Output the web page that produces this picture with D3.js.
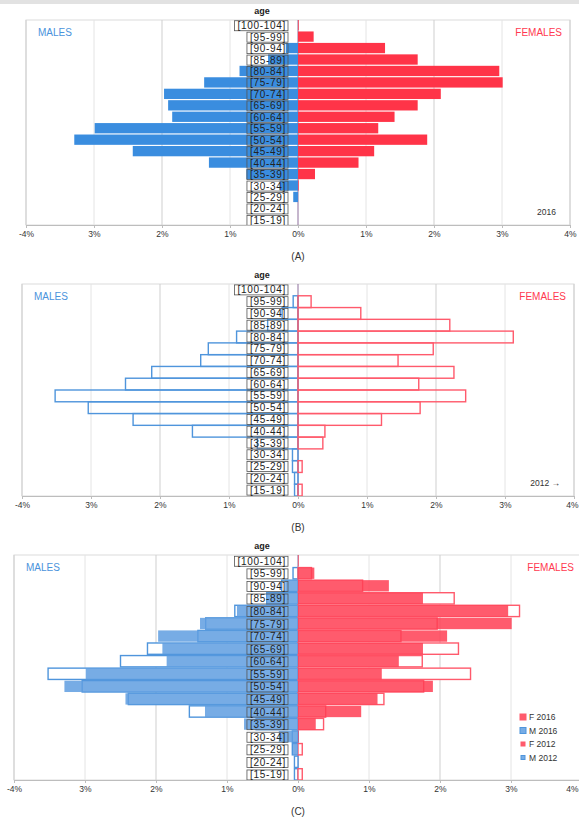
<!DOCTYPE html>
<html>
<head>
<meta charset="utf-8">
<script src="https://cdn.jsdelivr.net/npm/d3@7"></script>
<style>
  body { margin: 0; background: #fff; }
  svg { display: block; }
  text { font-family: "Liberation Sans", Arial, sans-serif; }
</style>
</head>
<body>
<svg></svg>
<script>

// age groups, oldest at the top
var ageGroups = ['[100-104]', '[95-99]', '[90-94]', '[85-89]', '[80-84]', '[75-79]', '[70-74]', '[65-69]', '[60-64]',
                 '[55-59]', '[50-54]', '[45-49]', '[40-44]', '[35-39]', '[30-34]', '[25-29]', '[20-24]', '[15-19]']

// share of total population, in %
var males2016   = [0, 0, 0.18, 0.44, 0.86, 1.38, 1.97, 1.91, 1.85, 2.99, 3.29, 2.43, 1.31, 0.76, 0.27, 0.07, 0, 0]
var females2016 = [0.01, 0.23, 1.28, 1.76, 2.96, 3.01, 2.10, 1.76, 1.42, 1.18, 1.90, 1.12, 0.89, 0.25, 0.01, 0, 0, 0]
var males2012   = [0, 0.07, 0.23, 0.44, 0.89, 1.30, 1.41, 2.12, 2.50, 3.52, 3.04, 2.39, 1.53, 0.59, 0.08, 0.08, 0.05, 0.05]
var females2012 = [0, 0.19, 0.91, 2.20, 3.12, 1.96, 1.45, 2.26, 1.75, 2.43, 1.77, 1.21, 0.39, 0.36, 0, 0.06, 0, 0.06]

var tickValues = [-4, -3, -2, -1, 0, 1, 2, 3, 4]
var tickLabels = ['-4%', '3%', '2%', '1%', '0%', '1%', '2%', '3%', '4%']

var legendLabels = ['F 2016', 'M 2016', 'F 2012', 'M 2012']

var width = 579,
    height = 821

var blue = '#3a8ddf', red = '#ff3448'
var blueLine = '#4f95dc', redLine = '#ff5a6c'
var blueSoft = 'rgba(95,158,224,0.85)', redSoft = 'rgba(255,62,84,0.85)'

var svg = d3.select('svg')
            .attr('width', width)
            .attr('height', height)

// grey strip of the cut off title
svg.append('rect').attr('x', 0).attr('y', 0).attr('width', width).attr('height', 4).attr('fill', '#e2e2e2')

var panels = [
  {name: '(A)', top: 20, bottom: 225, left: 26, right: 570, mode: 'filled', note: '2016'},
  {name: '(B)', top: 284, bottom: 496, left: 22, right: 574, mode: 'outline', note: '2012 \u2192'},
  {name: '(C)', top: 555, bottom: 780, left: 14, right: 582, mode: 'both'}
]

panels.forEach(drawPanel)

function drawPanel(p) {
  var g = svg.append('g')

  var x = d3.scaleLinear()
      .domain([-4, 4])
      .range([p.left, p.right])

  var y = d3.scaleBand()
      .domain(ageGroups)
      .range([p.top, p.bottom])
      .paddingInner(p.mode == 'outline' ? 0 : 0.1)

  // frame and grid
  g.append('rect')
    .attr('x', p.left).attr('y', p.top)
    .attr('width', p.right - p.left).attr('height', p.bottom - p.top)
    .attr('fill', 'none').attr('stroke', '#dcdcdc')

  g.selectAll('.grid')
    .data(tickValues.filter(d => d != 0))
    .enter()
    .append('line')
      .attr('x1', d => x(d)).attr('x2', d => x(d))
      .attr('y1', p.top).attr('y2', p.bottom)
      .attr('stroke', d => Math.abs(d) % 2 == 0 ? '#cfcfcf' : '#e4e4e4')

  g.append('line')
    .attr('x1', x(0)).attr('x2', x(0))
    .attr('y1', p.top).attr('y2', p.bottom)
    .attr('stroke', '#8d6f9c')

  var rows = ageGroups.map((a, i) => ({age: a, m16: males2016[i], f16: females2016[i], m12: males2012[i], f12: females2012[i]}))

  // 2012 as outlined bars
  if (p.mode != 'filled') {
    var fillOld = p.mode == 'both' ? '#fff' : 'none'
    g.selectAll('.m12')
      .data(rows.filter(d => d.m12 > 0))
      .enter()
      .append('rect')
        .attr('x', d => x(-d.m12))
        .attr('y', d => y(d.age))
        .attr('width', d => x(0) - x(-d.m12))
        .attr('height', y.bandwidth())
        .attr('fill', fillOld)
        .attr('stroke', blueLine)
        .attr('stroke-width', 1.4)
    g.selectAll('.f12')
      .data(rows.filter(d => d.f12 > 0))
      .enter()
      .append('rect')
        .attr('x', x(0))
        .attr('y', d => y(d.age))
        .attr('width', d => x(d.f12) - x(0))
        .attr('height', y.bandwidth())
        .attr('fill', fillOld)
        .attr('stroke', redLine)
        .attr('stroke-width', 1.4)
  }

  // 2016 as filled bars
  if (p.mode != 'outline') {
    g.selectAll('.m16')
      .data(rows)
      .enter()
      .append('rect')
        .attr('x', d => x(-d.m16))
        .attr('y', d => y(d.age))
        .attr('width', d => x(0) - x(-d.m16))
        .attr('height', y.bandwidth())
        .attr('fill', p.mode == 'both' ? blueSoft : blue)
    g.selectAll('.f16')
      .data(rows)
      .enter()
      .append('rect')
        .attr('x', x(0))
        .attr('y', d => y(d.age))
        .attr('width', d => x(d.f16) - x(0))
        .attr('height', y.bandwidth())
        .attr('fill', p.mode == 'both' ? redSoft : red)
  }

  // age labels in small boxes
  var labels = g.selectAll('.age')
      .data(ageGroups)
      .enter()
      .append('g')

  labels.append('text')
    .attr('x', x(0) - 12)
    .attr('y', d => y(d) + y.step() / 2)
    .attr('dy', '0.35em')
    .attr('text-anchor', 'end')
    .style('font-size', '10px')
    .style('letter-spacing', '0.7px')
    .attr('fill', '#222')
    .text(d => d)

  labels.each(function() {
    var t = d3.select(this).select('text')
    var b = t.node().getBBox()
    d3.select(this).insert('rect', 'text')
      .attr('x', b.x - 3).attr('y', b.y + 0.5)
      .attr('width', b.width + 5).attr('height', b.height - 1)
      .attr('fill', 'none')
      .attr('stroke', '#555')
      .attr('stroke-width', 0.8)
  })

  g.append('text')
    .attr('x', x(0) - 36)
    .attr('y', p.top - 6)
    .attr('text-anchor', 'middle')
    .style('font-size', '9px')
    .style('font-weight', 'bold')
    .attr('fill', '#222')
    .text('age')

  // sides
  g.append('text')
    .attr('x', p.left + 12).attr('y', p.top + 16)
    .style('font-size', '10px').attr('fill', '#4a93dc')
    .text('MALES')
  g.append('text')
    .attr('x', p.right - 8).attr('y', p.top + 16)
    .attr('text-anchor', 'end')
    .style('font-size', '10px').attr('fill', '#ff3a50')
    .text('FEMALES')

  // x axis
  var axis = g.append('g')
      .attr('transform', `translate(0,${p.bottom})`)
      .call(d3.axisBottom(x).tickValues(tickValues).tickFormat((d, i) => tickLabels[i]).tickSize(3))
  axis.select('.domain').attr('stroke', '#bdbdbd')
  axis.selectAll('.tick line').attr('stroke', '#bdbdbd')
  axis.selectAll('.tick text')
    .attr('fill', '#333')
    .style('font-size', '8.5px')
    .style('font-family', '"Liberation Sans", Arial, sans-serif')
  // keep the last label inside the page
  axis.selectAll('.tick text')
    .filter(d => x(d) + 8 > width)
    .attr('text-anchor', 'end')
    .attr('x', d => width - 1 - x(d))

  g.append('text')
    .attr('x', x(0)).attr('y', p.bottom + 35)
    .attr('text-anchor', 'middle')
    .style('font-size', '10px').attr('fill', '#333')
    .text(p.name)

  if (p.note) {
    g.append('text')
      .attr('x', p.right - 14).attr('y', p.bottom - 10)
      .attr('text-anchor', 'end')
      .style('font-size', '8.5px').attr('fill', '#333')
      .text(p.note)
  }

  if (p.mode == 'both') {
    var leg = g.selectAll('.legend')
        .data(legendLabels)
        .enter()
        .append('g')
          .attr('transform', (d, i) => `translate(${p.right - 62},${p.bottom - 60 + i * 13.5})`)
    leg.append('rect')
      .attr('x', (d, i) => i < 2 ? 0 : 1).attr('y', (d, i) => i < 2 ? -6 : -5)
      .attr('width', (d, i) => i < 2 ? 6 : 4).attr('height', (d, i) => i < 2 ? 6 : 4)
      .attr('fill', (d, i) => i % 2 == 0 ? redSoft : blueSoft)
      .attr('stroke', (d, i) => i % 2 == 0 ? redLine : blueLine)
    leg.append('text')
      .attr('x', 9).attr('y', 0)
      .style('font-size', '8.5px').attr('fill', '#333')
      .text(d => d)
  }
}

</script>
</body>
</html>
